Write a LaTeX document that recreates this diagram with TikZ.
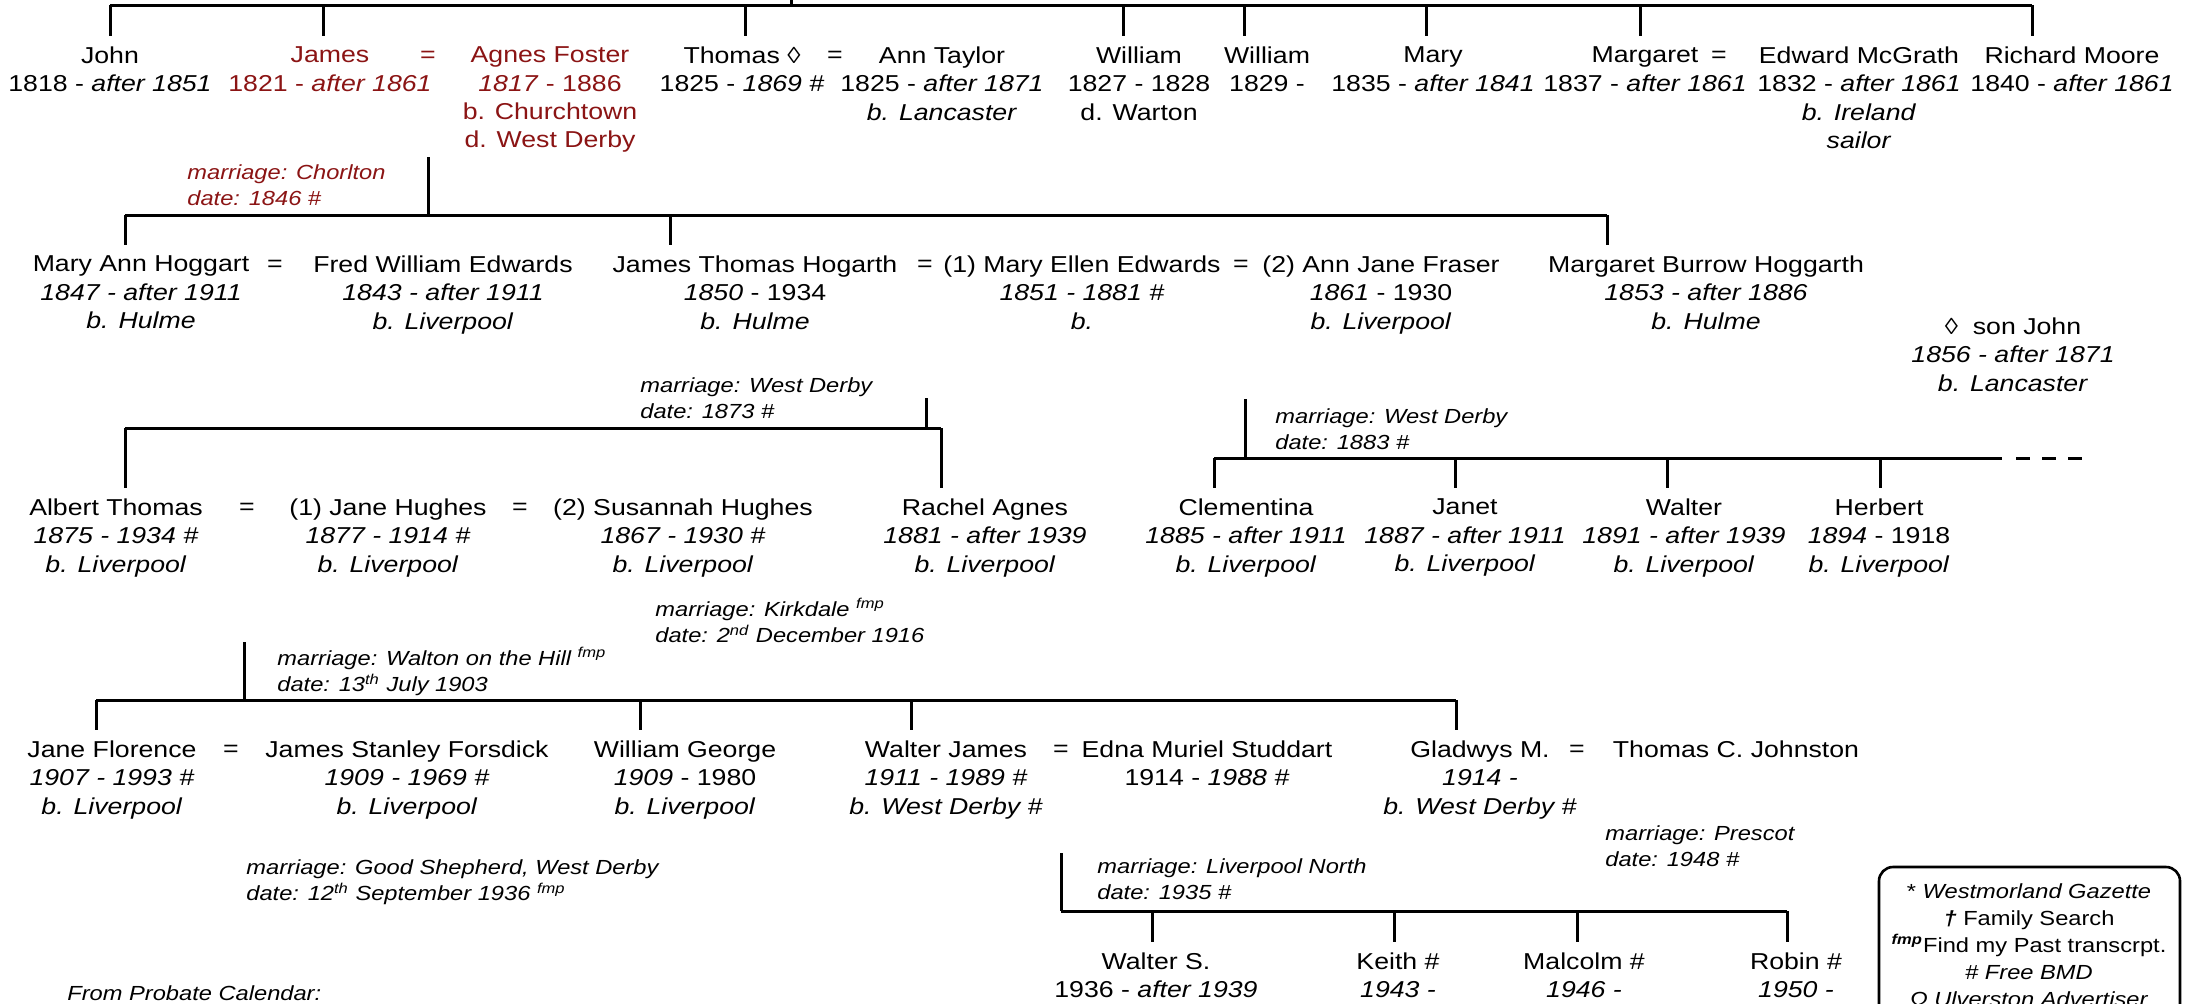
\documentclass[tikz,border=0pt]{standalone}
\usepackage{fontspec}
\setmainfont{Liberation Sans}[FakeStretch=1.16]
\usepackage{tikz}
\usetikzlibrary{positioning}
\definecolor{kinred}{RGB}{139,20,20}
\tikzstyle{famline} = [draw, line width=1.5pt]
\tikzstyle{person} = [font=\fontsize{11.5}{14.15}\selectfont, align=center, anchor=north,
   inner sep=0pt, outer ysep=5.5pt]
\tikzstyle{redperson} = [person, text=kinred]
\tikzstyle{marr} = [font=\fontsize{10.2}{13.25}\selectfont\itshape, align=left,
   anchor=north west, inner sep=0pt]
\tikzstyle{redmarr} = [marr, text=kinred]
\tikzstyle{legend} = [font=\fontsize{10.2}{13.5}\selectfont, align=center, anchor=north, inner sep=0pt]
\tikzstyle{legendbox} = [draw, line width=1.3pt, rounded corners=7pt]
\newcommand{\eqs}{\vphantom{J}=}
\newcommand{\fmp}{\textsuperscript{fmp}}

\begin{document}
\begin{tikzpicture}[x=0.5pt,y=-0.5pt]

\useasboundingbox (0,0) rectangle (2195,1003);
\clip (0,0) rectangle (2195,1003);
\fill[white] (0,0) rectangle (2195,1003);

% first generation
\node (john) [person] at (110,36) {John\\1818 - \textit{after 1851}};
\node (james) [redperson] at (330,36) {James\\1821 - \textit{after 1861}};
\node (eqja) [redperson] at (428,36) {\eqs};
\node (agnes) [redperson] at (550,36) {Agnes Foster\\\textit{1817} - 1886\\b. Churchtown\\d. West Derby};
\node (thomas) [person] at (742,36) {Thomas ◊\\1825 - \textit{1869} \#};
\node (eqta) [person] at (835,36) {\eqs};
\node (ann) [person] at (942,36) {Ann Taylor\\1825 - \textit{after 1871}\\\textit{b. Lancaster}};
\node (william) [person] at (1139,36) {William\\1827 - 1828\\d. Warton};
\node (williamb) [person] at (1267,36) {William\\1829 -};
\node (mary) [person] at (1433,36) {Mary\\1835 - \textit{after 1841}};
\node (margaret) [person] at (1645,36) {Margaret\\1837 - \textit{after 1861}};
\node (eqme) [person] at (1719,36) {\eqs};
\node (edward) [person] at (1859,36) {Edward McGrath\\1832 - \textit{after 1861}\\\textit{b. Ireland}\\\textit{sailor}};
\node (richard) [person] at (2072,36) {Richard Moore\\1840 - \textit{after 1861}};

\coordinate (aup) at (791,-5);
\coordinate (a1) at (110,5);
\coordinate (a2) at (323,5);
\coordinate (a3) at (745,5);
\coordinate (a4) at (1123,5);
\coordinate (a5) at (1244,5);
\coordinate (a6) at (1426,5);
\coordinate (a7) at (1640,5);
\coordinate (a8) at (2032,5);

\draw [famline] (a1) -- (a8);
\draw [famline] (aup) -- (aup |- a1);
\draw [famline] (a1) -- (a1 |- john.north);
\draw [famline] (a2) -- (a2 |- james.north);
\draw [famline] (a3) -- (a3 |- thomas.north);
\draw [famline] (a4) -- (a4 |- william.north);
\draw [famline] (a5) -- (a5 |- williamb.north);
\draw [famline] (a6) -- (a6 |- mary.north);
\draw [famline] (a7) -- (a7 |- margaret.north);
\draw [famline] (a8) -- (a8 |- richard.north);

% second generation
\node (chorlton) [redmarr] at (187,164) {marriage: Chorlton\\date: 1846 \#};

\node (maryann) [person] at (141,245) {Mary Ann Hoggart\\\textit{1847 - after 1911}\\\textit{b. Hulme}};
\node (eqmf) [person] at (275,245) {\eqs};
\node (fred) [person] at (443,245) {Fred William Edwards\\\textit{1843 - after 1911}\\\textit{b. Liverpool}};
\node (jamesth) [person] at (755,245) {James Thomas Hogarth\\\textit{1850} - 1934\\\textit{b. Hulme}};
\node (eqjm) [person] at (925,245) {\eqs};
\node (maryellen) [person] at (1082,245) {(1) Mary Ellen Edwards\\\textit{1851 - 1881 \#}\\\textit{b.}};
\node (eqma) [person] at (1241,245) {\eqs};
\node (annjane) [person] at (1381,245) {(2) Ann Jane Fraser\\\textit{1861} - 1930\\\textit{b. Liverpool}};
\node (margburrow) [person] at (1706,245) {Margaret Burrow Hoggarth\\\textit{1853 - after 1886}\\\textit{b. Hulme}};
\node (sonjohn) [person] at (2013,307) {◊\ \ son John\\\textit{1856 - after 1871}\\\textit{b. Lancaster}};

\coordinate (mja) at (428,157);
\coordinate (b1) at (125,215);
\coordinate (b2) at (670,215);
\coordinate (b3) at (1607,215);

\draw [famline] (mja) -- (mja |- b1);
\draw [famline] (b1) -- (b3);
\draw [famline] (b1) -- (b1 |- maryann.north);
\draw [famline] (b2) -- (b2 |- jamesth.north);
\draw [famline] (b3) -- (b3 |- margburrow.north);

% third generation
\node (derbya) [marr] at (640,377) {marriage: West Derby\\date: 1873 \#};
\node (derbyb) [marr] at (1275,408) {marriage: West Derby\\date: 1883 \#};

\node (albert) [person] at (116,488) {Albert Thomas\\\textit{1875 - 1934 \#}\\\textit{b. Liverpool}};
\node (eqaj) [person] at (247,488) {\eqs};
\node (janeh) [person] at (388,488) {(1) Jane Hughes\\\textit{1877 - 1914 \#}\\\textit{b. Liverpool}};
\node (eqjs) [person] at (520,488) {\eqs};
\node (susannah) [person] at (683,488) {(2) Susannah Hughes\\\textit{1867 - 1930 \#}\\\textit{b. Liverpool}};
\node (rachel) [person] at (985,488) {Rachel Agnes\\\textit{1881 - after 1939}\\\textit{b. Liverpool}};
\node (clementina) [person] at (1246,488) {Clementina\\\textit{1885 - after 1911}\\\textit{b. Liverpool}};
\node (janet) [person] at (1465,488) {Janet\\\textit{1887 - after 1911}\\\textit{b. Liverpool}};
\node (walter) [person] at (1684,488) {Walter\\\textit{1891 - after 1939}\\\textit{b. Liverpool}};
\node (herbert) [person] at (1879,488) {Herbert\\\textit{1894} - 1918\\\textit{b. Liverpool}};

\coordinate (mjm) at (926,398);
\coordinate (c1) at (125,428);
\coordinate (c2) at (941,428);

\draw [famline] (mjm) -- (mjm |- c1);
\draw [famline] (c1) -- (c2);
\draw [famline] (c1) -- (c1 |- albert.north);
\draw [famline] (c2) -- (c2 |- rachel.north);

\coordinate (mjf) at (1245,399);
\coordinate (d1) at (1214,458);
\coordinate (d2) at (1455,458);
\coordinate (d3) at (1667,458);
\coordinate (d4) at (1880,458);
\coordinate (dend) at (2002,458);
\coordinate (ddash) at (2016,458);
\coordinate (ddashend) at (2082,458);

\draw [famline] (mjf) -- (mjf |- d1);
\draw [famline] (d1) -- (dend);
\draw [famline, dash pattern=on 7pt off 6pt] (ddash) -- (ddashend);
\draw [famline] (d1) -- (d1 |- clementina.north);
\draw [famline] (d2) -- (d2 |- janet.north);
\draw [famline] (d3) -- (d3 |- walter.north);
\draw [famline] (d4) -- (d4 |- herbert.north);

% fourth generation
\node (kirkdale) [marr] at (655,598) {marriage: Kirkdale \fmp\\date: 2\textsuperscript{nd} December 1916};
\node (walton) [marr] at (277,647) {marriage: Walton on the Hill \fmp\\date: 13\textsuperscript{th} July 1903};

\node (janeflo) [person] at (112,730) {Jane Florence\\\textit{1907 - 1993 \#}\\\textit{b. Liverpool}};
\node (eqjj) [person] at (231,730) {\eqs};
\node (jamesst) [person] at (407,730) {James Stanley Forsdick\\\textit{1909 - 1969 \#}\\\textit{b. Liverpool}};
\node (williamg) [person] at (685,730) {William George\\\textit{1909} - 1980\\\textit{b. Liverpool}};
\node (walterj) [person] at (946,730) {Walter James\\\textit{1911 - 1989 \#}\\\textit{b. West Derby \#}};
\node (eqwe) [person] at (1061,730) {\eqs};
\node (edna) [person] at (1207,730) {Edna Muriel Studdart\\1914 - \textit{1988 \#}};
\node (gladwys) [person] at (1480,730) {Gladwys M.\\\textit{1914 -}\\\textit{b. West Derby \#}};
\node (eqgt) [person] at (1577,730) {\eqs};
\node (thomasj) [person] at (1736,730) {Thomas C. Johnston};

\coordinate (mat) at (244,642);
\coordinate (e1) at (96,700);
\coordinate (e2) at (640,700);
\coordinate (e3) at (911,700);
\coordinate (e4) at (1456,700);

\draw [famline] (mat) -- (mat |- e1);
\draw [famline] (e1) -- (e4);
\draw [famline] (e1) -- (e1 |- janeflo.north);
\draw [famline] (e2) -- (e2 |- williamg.north);
\draw [famline] (e3) -- (e3 |- walterj.north);
\draw [famline] (e4) -- (e4 |- gladwys.north);

% fifth generation
\node (prescot) [marr] at (1605,825) {marriage: Prescot\\date: 1948 \#};
\node (shepherd) [marr] at (246,859) {marriage: Good Shepherd, West Derby\\date: 12\textsuperscript{th} September 1936 \fmp};
\node (livnorth) [marr] at (1097,858) {marriage: Liverpool North\\date: 1935 \#};
\node (probate) [marr] at (67,985) {From Probate Calendar:};

\node (walters) [person] at (1156,942) {Walter S.\\1936 - \textit{after 1939}};
\node (keith) [person] at (1398,942) {Keith \#\\\textit{1943 -}};
\node (malcolm) [person] at (1584,942) {Malcolm \#\\\textit{1946 -}};
\node (robin) [person] at (1796,942) {Robin \#\\\textit{1950 -}};

\coordinate (mwe) at (1061,853);
\coordinate (f0) at (1061,911);
\coordinate (f1) at (1152,911);
\coordinate (f2) at (1394,911);
\coordinate (f3) at (1577,911);
\coordinate (f4) at (1787,911);

\draw [famline] (mwe) -- (f0);
\draw [famline] (f0) -- (f4);
\draw [famline] (f1) -- (f1 |- walters.north);
\draw [famline] (f2) -- (f2 |- keith.north);
\draw [famline] (f3) -- (f3 |- malcolm.north);
\draw [famline] (f4) -- (f4 |- robin.north);

% sources
\draw [legendbox] (1879,867) rectangle (2180,1100);
\node (sources) [legend] at (2029,883) {* \textit{Westmorland Gazette}\\\textbf{\textit{†}} Family Search\\\textsuperscript{\textbf{\textit{fmp}}}Find my Past transcrpt.\\\textit{\# Free BMD}\\\textit{Ω Ulverston Advertiser}};

\end{tikzpicture}
\end{document}
